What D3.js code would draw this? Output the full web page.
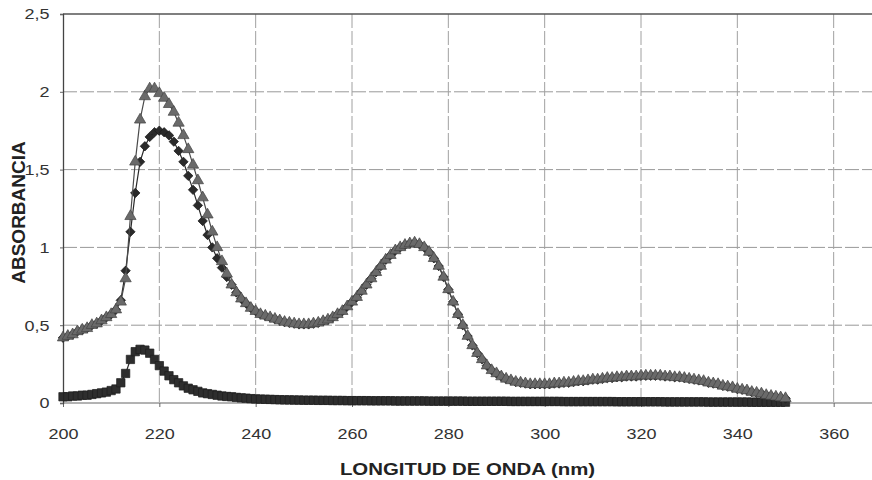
<!DOCTYPE html>
<html>
<head>
<meta charset="utf-8">
<script src="https://cdn.jsdelivr.net/npm/d3@7"></script>
<style>
    body { margin: 0; background: #fff; }
    svg { display: block; font-family: "Liberation Sans", Arial, sans-serif; }
</style>
</head>
<body>
<svg id="chart" width="872" height="480"></svg>
<script>
// longitudes de onda (nm)
const wavelengths = [
    200, 201, 202, 203, 204, 205, 206, 207, 208, 209,
    210, 211, 212, 213, 214, 215, 216, 217, 218, 219,
    220, 221, 222, 223, 224, 225, 226, 227, 228, 229,
    230, 231, 232, 233, 234, 235, 236, 237, 238, 239,
    240, 241, 242, 243, 244, 245, 246, 247, 248, 249,
    250, 251, 252, 253, 254, 255, 256, 257, 258, 259,
    260, 261, 262, 263, 264, 265, 266, 267, 268, 269,
    270, 271, 272, 273, 274, 275, 276, 277, 278, 279,
    280, 281, 282, 283, 284, 285, 286, 287, 288, 289,
    290, 291, 292, 293, 294, 295, 296, 297, 298, 299,
    300, 301, 302, 303, 304, 305, 306, 307, 308, 309,
    310, 311, 312, 313, 314, 315, 316, 317, 318, 319,
    320, 321, 322, 323, 324, 325, 326, 327, 328, 329,
    330, 331, 332, 333, 334, 335, 336, 337, 338, 339,
    340, 341, 342, 343, 344, 345, 346, 347, 348, 349,
    350
];

// serie con triangulos (gris)
const triangleValues = [
    0.42, 0.43, 0.44, 0.46, 0.47, 0.48, 0.50, 0.51, 0.53, 0.55,
    0.57, 0.60, 0.65, 0.80, 1.20, 1.55, 1.82, 1.97, 2.02, 2.02,
    1.99, 1.96, 1.92, 1.87, 1.80, 1.72, 1.63, 1.53, 1.43, 1.32,
    1.21, 1.10, 1.00, 0.91, 0.83, 0.76, 0.71, 0.67, 0.64, 0.61,
    0.59, 0.57, 0.56, 0.55, 0.54, 0.53, 0.52, 0.515, 0.51, 0.505,
    0.505, 0.505, 0.51, 0.515, 0.525, 0.535, 0.55, 0.57, 0.59, 0.62,
    0.65, 0.68, 0.72, 0.76, 0.80, 0.84, 0.88, 0.92, 0.95, 0.98,
    1.00, 1.015, 1.025, 1.03, 1.02, 1.00, 0.97, 0.93, 0.88, 0.81,
    0.73, 0.65, 0.57, 0.50, 0.43, 0.37, 0.32, 0.28, 0.24, 0.21,
    0.19, 0.17, 0.155, 0.145, 0.135, 0.13, 0.125, 0.12, 0.12, 0.12,
    0.12, 0.12, 0.125, 0.125, 0.13, 0.13, 0.135, 0.14, 0.14, 0.145,
    0.15, 0.15, 0.155, 0.16, 0.16, 0.165, 0.165, 0.17, 0.17, 0.17,
    0.175, 0.175, 0.175, 0.175, 0.175, 0.17, 0.17, 0.165, 0.165, 0.16,
    0.155, 0.15, 0.145, 0.14, 0.13, 0.125, 0.12, 0.11, 0.105, 0.10,
    0.09, 0.085, 0.08, 0.07, 0.065, 0.06, 0.05, 0.045, 0.04, 0.035,
    0.03
];

// serie con rombos (oscura)
const diamondValues = [
    0.42, 0.43, 0.44, 0.46, 0.47, 0.48, 0.50, 0.51, 0.53, 0.55,
    0.57, 0.60, 0.66, 0.85, 1.10, 1.35, 1.55, 1.65, 1.71, 1.74,
    1.75, 1.74, 1.72, 1.68, 1.62, 1.55, 1.46, 1.37, 1.27, 1.17,
    1.08, 1.00, 0.93, 0.87, 0.81, 0.76, 0.71, 0.67, 0.64, 0.61,
    0.59, 0.57, 0.56, 0.55, 0.54, 0.53, 0.52, 0.515, 0.51, 0.505,
    0.505, 0.505, 0.51, 0.515, 0.525, 0.535, 0.55, 0.57, 0.59, 0.62,
    0.65, 0.68, 0.72, 0.76, 0.80, 0.84, 0.88, 0.92, 0.95, 0.98,
    1.00, 1.015, 1.025, 1.03, 1.02, 1.00, 0.97, 0.93, 0.88, 0.81,
    0.73, 0.65, 0.57, 0.50, 0.43, 0.37, 0.32, 0.28, 0.24, 0.21,
    0.19, 0.17, 0.155, 0.145, 0.135, 0.13, 0.125, 0.12, 0.12, 0.12,
    0.12, 0.12, 0.125, 0.125, 0.13, 0.13, 0.135, 0.14, 0.14, 0.145,
    0.15, 0.15, 0.155, 0.16, 0.16, 0.165, 0.165, 0.17, 0.17, 0.17,
    0.175, 0.175, 0.175, 0.175, 0.175, 0.17, 0.17, 0.165, 0.165, 0.16,
    0.155, 0.15, 0.145, 0.14, 0.13, 0.125, 0.12, 0.11, 0.105, 0.10,
    0.09, 0.085, 0.08, 0.07, 0.065, 0.06, 0.05, 0.045, 0.04, 0.035,
    0.03
];

// serie con cuadrados (oscura)
const squareValues = [
    0.04, 0.04, 0.045, 0.045, 0.05, 0.05, 0.055, 0.06, 0.065, 0.07,
    0.08, 0.09, 0.13, 0.19, 0.28, 0.33, 0.345, 0.34, 0.32, 0.28,
    0.24, 0.205, 0.175, 0.15, 0.13, 0.11, 0.095, 0.085, 0.075, 0.065,
    0.06, 0.055, 0.05, 0.045, 0.042, 0.04, 0.036, 0.033, 0.031, 0.028,
    0.026, 0.025, 0.024, 0.023, 0.022, 0.021, 0.02, 0.02, 0.019, 0.019,
    0.018, 0.018, 0.018, 0.017, 0.017, 0.017, 0.016, 0.016, 0.016, 0.015,
    0.015, 0.015, 0.015, 0.015, 0.014, 0.014, 0.014, 0.014, 0.014, 0.013,
    0.013, 0.013, 0.013, 0.013, 0.013, 0.013, 0.012, 0.012, 0.012, 0.012,
    0.012, 0.012, 0.012, 0.012, 0.011, 0.011, 0.011, 0.011, 0.011, 0.011,
    0.011, 0.011, 0.011, 0.010, 0.010, 0.010, 0.010, 0.010, 0.010, 0.010,
    0.010, 0.010, 0.010, 0.010, 0.009, 0.009, 0.009, 0.009, 0.009, 0.009,
    0.009, 0.009, 0.009, 0.009, 0.009, 0.008, 0.008, 0.008, 0.008, 0.008,
    0.008, 0.008, 0.008, 0.008, 0.008, 0.007, 0.007, 0.007, 0.007, 0.007,
    0.007, 0.007, 0.007, 0.007, 0.006, 0.006, 0.006, 0.006, 0.006, 0.006,
    0.006, 0.006, 0.006, 0.005, 0.005, 0.005, 0.005, 0.005, 0.005, 0.005,
    0.005
];

// ejes
const xTicks = [200, 220, 240, 260, 280, 300, 320, 340, 360];
const yTicks = [0, 0.5, 1, 1.5, 2, 2.5];
const yTickLabels = ["0", "0,5", "1", "1,5", "2", "2,5"];
const xTitle = "LONGITUD DE ONDA (nm)";
const yTitle = "ABSORBANCIA";

const svg = d3.select("#chart");
const plot = { left: 63, top: 14, right: 930, bottom: 403 }; // el grafico sigue fuera de la imagen a la derecha
const stretch = 1.2; // el texto del original esta algo ensanchado

const xScale = d3.scaleLinear().domain([200, 380]).range([plot.left, plot.right]);
const yScale = d3.scaleLinear().domain([0, 2.5]).range([plot.bottom, plot.top]);

drawGrid();
drawAxes();
drawSeries(squareValues, "square");
drawSeries(diamondValues, "diamond");
drawSeries(triangleValues, "triangle");
drawTitles();

function drawGrid() {
    const grid = svg.append("g").attr("class", "grid");
    grid.selectAll(".hgrid")
        .data(yTicks.filter(v => v > 0 && v < 2.5))
        .enter().append("line")
        .attr("x1", plot.left).attr("x2", plot.right)
        .attr("y1", d => yScale(d)).attr("y2", d => yScale(d))
        .attr("stroke", "#999")
        .attr("stroke-width", 1)
        .attr("stroke-dasharray", "14,3");
    grid.selectAll(".vgrid")
        .data(xTicks.filter(v => v > 200))
        .enter().append("line")
        .attr("x1", d => xScale(d)).attr("x2", d => xScale(d))
        .attr("y1", plot.top).attr("y2", plot.bottom)
        .attr("stroke", "#a0a0a0")
        .attr("stroke-width", 1)
        .attr("stroke-dasharray", "14,3");
    // borde superior
    grid.append("line")
        .attr("x1", plot.left).attr("x2", plot.right)
        .attr("y1", yScale(2.5)).attr("y2", yScale(2.5))
        .attr("stroke", "#555").attr("stroke-width", 1.3);
}

function drawAxes() {
    const xAxis = d3.axisBottom(xScale).tickValues(xTicks).tickSize(4).tickFormat(d3.format("d"));
    const gx = svg.append("g")
        .attr("class", "x-axis")
        .attr("transform", `translate(0,${plot.bottom})`)
        .call(xAxis);
    gx.select(".domain").attr("stroke", "#666").attr("d", `M${plot.left},0H${plot.right}`);
    gx.selectAll(".tick line").attr("stroke", "#666");
    gx.selectAll("text")
        .attr("y", 36).attr("dy", 0)
        .attr("transform", `scale(${stretch},1)`)
        .style("font-size", "15px")
        .attr("fill", "#333");

    const yAxis = d3.axisLeft(yScale).tickValues(yTicks).tickSize(3)
        .tickFormat((d, i) => yTickLabels[i]);
    const gy = svg.append("g")
        .attr("class", "y-axis")
        .attr("transform", `translate(${plot.left},0)`)
        .call(yAxis);
    gy.select(".domain").attr("stroke", "#444").attr("stroke-width", 1.3);
    gy.selectAll(".tick line").attr("stroke", "#666");
    gy.selectAll("text")
        .attr("x", -13.5 / stretch)
        .attr("transform", `scale(${stretch},1)`)
        .style("font-size", "15px")
        .attr("fill", "#333");
}

function drawSeries(values, shape) {
    const points = wavelengths.map((w, i) => ({ w, v: values[i] }));
    const styles = {
        square:   { fill: "#2e2e2e", stroke: "#1e1e1e", line: "#2a2a2a", symbol: d3.symbolSquare, size: 70, rotate: 0 },
        diamond:  { fill: "#2a2a2a", stroke: "#1a1a1a", line: "#2a2a2a", symbol: d3.symbolSquare, size: 44, rotate: 45 },
        triangle: { fill: "#6a6a6a", stroke: "#444", line: "#4a4a4a", symbol: d3.symbolTriangle, size: 55, rotate: 0 }
    };
    const st = styles[shape];

    const lineGenerator = d3.line()
        .x(d => xScale(d.w))
        .y(d => yScale(d.v));
    svg.append("path")
        .datum(points)
        .attr("fill", "none")
        .attr("stroke", st.line)
        .attr("stroke-width", 1.2)
        .attr("d", lineGenerator);

    const sym = d3.symbol().type(st.symbol).size(st.size);
    svg.append("g").attr("class", shape)
        .selectAll("path")
        .data(points)
        .enter().append("path")
        .attr("d", sym)
        .attr("transform", d => `translate(${xScale(d.w)},${yScale(d.v)}) rotate(${st.rotate})`)
        .attr("fill", st.fill)
        .attr("stroke", st.stroke)
        .attr("stroke-width", 0.7);
}

function drawTitles() {
    svg.append("g")
        .attr("transform", `translate(${(plot.left + 872) / 2},475)`)
        .append("text")
        .attr("transform", `scale(${stretch},1)`)
        .attr("text-anchor", "middle")
        .style("font-size", "17px")
        .style("font-weight", "bold")
        .attr("fill", "#222")
        .text(xTitle);

    svg.append("text")
        .attr("transform", `translate(25,${(plot.top + plot.bottom) / 2 + 4}) rotate(-90)`)
        .attr("text-anchor", "middle")
        .style("font-size", "19px")
        .style("font-weight", "bold")
        .attr("fill", "#222")
        .text(yTitle);
}
</script>
</body>
</html>
